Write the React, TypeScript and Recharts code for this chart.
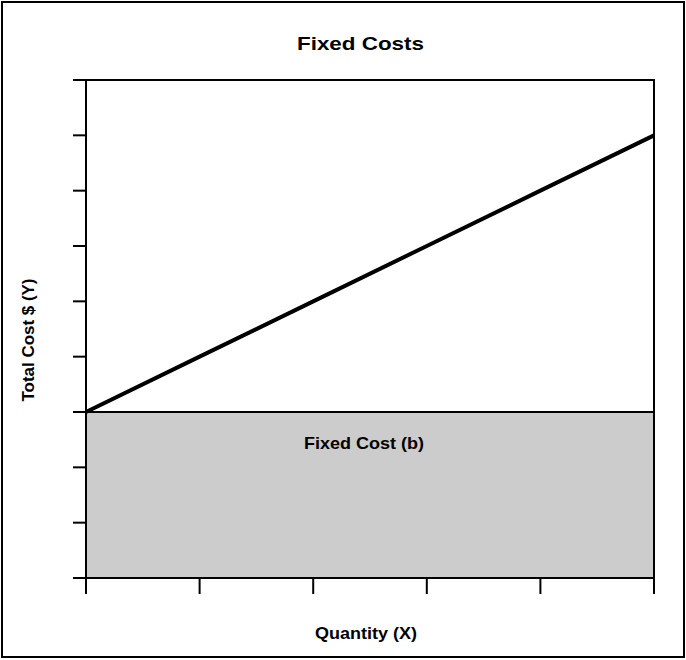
import React from 'react';
import { ComposedChart, Line, XAxis, YAxis, ReferenceArea } from 'recharts';

const quantity = [0, 1, 2, 3, 4, 5];
const totalCost = [3, 4, 5, 6, 7, 8];
const fixedCost = 3;
const xTicks = [0, 1, 2, 3, 4, 5];
const yTicks = [0, 1, 2, 3, 4, 5, 6, 7, 8, 9];
const title = 'Fixed Costs';
const xLabel = 'Quantity (X)';
const yLabel = 'Total Cost $ (Y)';
const areaLabel = 'Fixed Cost (b)';

const data = quantity.map((q, i) => ({ x: q, y: totalCost[i] }));

const FONT = '"Liberation Sans", Arial, Helvetica, sans-serif';

export default function App() {
  return (
    <div style={{ position: 'absolute', left: 0, top: 0, width: 686, height: 660, background: '#fff' }}>
      <div
        style={{
          position: 'absolute',
          left: 1,
          top: 1,
          width: 684,
          height: 657,
          boxSizing: 'border-box',
          border: '2px solid #000',
        }}
      />
      <div style={{ position: 'absolute', left: 0, top: 0 }}>
        <ComposedChart
          width={686}
          height={660}
          data={data}
          margin={{ top: 80, right: 32, bottom: 52, left: 56 }}
        >
          <XAxis
            dataKey="x"
            type="number"
            domain={[0, 5]}
            ticks={xTicks}
            height={30}
            tickSize={16}
            tick={{ fontSize: 1, fill: 'none' }}
            tickFormatter={() => ' '}
            axisLine={{ stroke: '#000', strokeWidth: 2 }}
            tickLine={{ stroke: '#000', strokeWidth: 2 }}
          />
          <YAxis
            type="number"
            domain={[0, 9]}
            ticks={yTicks}
            width={30}
            tickSize={13}
            tick={{ fontSize: 1, fill: 'none' }}
            tickFormatter={() => ' '}
            axisLine={{ stroke: '#000', strokeWidth: 2 }}
            tickLine={{ stroke: '#000', strokeWidth: 2 }}
          />
          <ReferenceArea
            x1={0}
            x2={5}
            y1={0}
            y2={9}
            fill="none"
            stroke="#000"
            strokeWidth={2}
            ifOverflow="visible"
          />
          <ReferenceArea
            x1={0}
            x2={5}
            y1={0}
            y2={fixedCost}
            fill="#cccccc"
            fillOpacity={1}
            stroke="#000"
            strokeWidth={2}
            ifOverflow="visible"
            label={(props: any) => {
              const vb = props.viewBox || {};
              return (
                <text
                  x={vb.x + vb.width / 2 - 6}
                  y={vb.y + 37}
                  textAnchor="middle"
                  fontFamily={FONT}
                  fontWeight="bold"
                  fontSize={16.5}
                  fill="#000"
                  textLength={120}
                  lengthAdjust="spacingAndGlyphs"
                >
                  {areaLabel}
                </text>
              );
            }}
          />
          <Line
            dataKey="y"
            type="linear"
            stroke="#000"
            strokeWidth={4}
            dot={false}
            activeDot={false}
            isAnimationActive={false}
          />
        </ComposedChart>
      </div>
      <svg
        width={686}
        height={660}
        style={{ position: 'absolute', left: 0, top: 0, pointerEvents: 'none' }}
      >
        <text
          x={360.5}
          y={50}
          textAnchor="middle"
          fontFamily={FONT}
          fontWeight="bold"
          fontSize={18.5}
          fill="#000"
          textLength={127}
          lengthAdjust="spacingAndGlyphs"
        >
          {title}
        </text>
        <text
          x={366}
          y={639}
          textAnchor="middle"
          fontFamily={FONT}
          fontWeight="bold"
          fontSize={16.5}
          fill="#000"
          textLength={102}
          lengthAdjust="spacingAndGlyphs"
        >
          {xLabel}
        </text>
        <text
          x={0}
          y={0}
          transform="translate(34,340) rotate(-90)"
          textAnchor="middle"
          fontFamily={FONT}
          fontWeight="bold"
          fontSize={16.5}
          fill="#000"
          textLength={123}
          lengthAdjust="spacingAndGlyphs"
        >
          {yLabel}
        </text>
      </svg>
    </div>
  );
}
